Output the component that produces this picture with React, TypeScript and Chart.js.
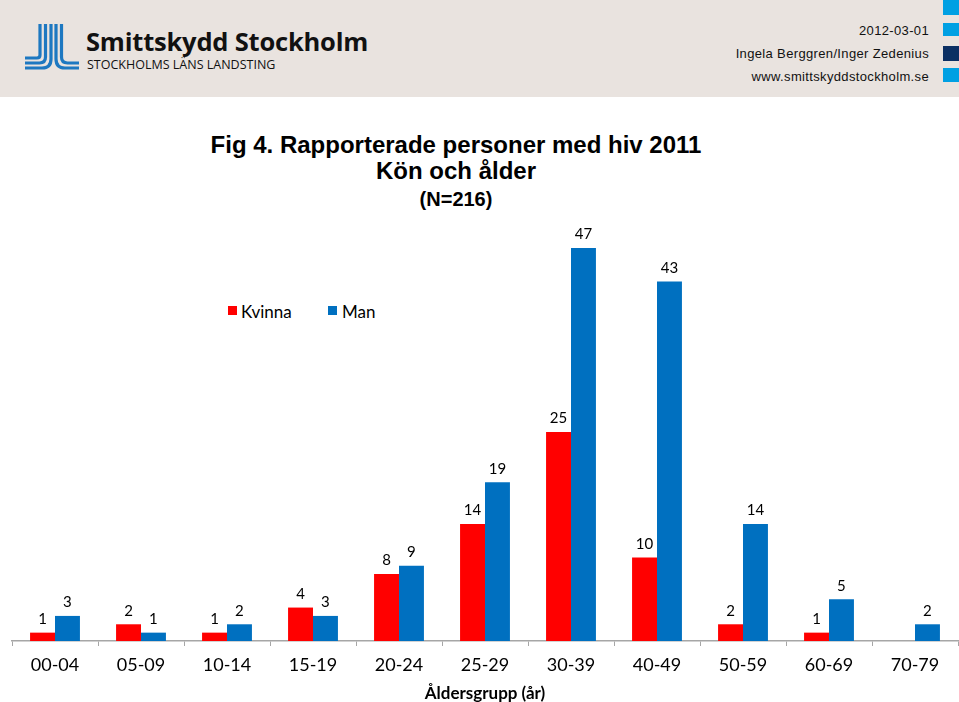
import { useEffect, useRef } from "react";
import Chart from "chart.js/auto";

const categories = ["00-04", "05-09", "10-14", "15-19", "20-24", "25-29", "30-39", "40-49", "50-59", "60-69", "70-79"];
const kvinna = [1, 2, 1, 4, 8, 14, 25, 10, 2, 1, 0];
const man = [3, 1, 2, 3, 9, 19, 47, 43, 14, 5, 2];
const seriesNames = ["Kvinna", "Man"];
const seriesColors = ["#ff0000", "#0070c0"];
const axisTitle = "Åldersgrupp (år)";
const titleLines = ["Fig 4. Rapporterade personer med hiv 2011", "Kön och ålder"];
const subTitle = "(N=216)";
const headerLines = ["2012-03-01", "Ingela Berggren/Inger Zedenius", "www.smittskyddstockholm.se"];
const yMax = 50;

const valueLabels = {
  id: "valueLabels",
  afterDatasetsDraw(chart: any) {
    const ctx = chart.ctx;
    ctx.save();
    ctx.font = "15px Lato";
    ctx.fillStyle = "#000";
    ctx.textAlign = "center";
    ctx.textBaseline = "bottom";
    chart.data.datasets.forEach((ds: any, i: number) => {
      const meta = chart.getDatasetMeta(i);
      meta.data.forEach((el: any, j: number) => {
        const v = ds.data[j];
        if (!v) return;
        ctx.fillText(String(v), el.x, el.y - 6);
      });
    });
    ctx.restore();
  },
};

function Logo() {
  const c = "#1d78c1";
  const sw = 3.2;
  return (
    <svg width="60" height="52" viewBox="0 0 60 52" style={{ position: "absolute", left: 22, top: 21 }}>
      <path d={`M18 3 V34 Q18 37 15 37 H3`} stroke={c} strokeWidth={sw} fill="none" />
      <path d={`M23.5 3 V36 Q23.5 42 17.5 42 H3`} stroke={c} strokeWidth={sw} fill="none" />
      <path d={`M29 3 V38 Q29 47 20 47 H3`} stroke={c} strokeWidth={sw} fill="none" />
      <path d={`M34 3 V38 Q34 47 43 47 H57`} stroke={c} strokeWidth={sw} fill="none" />
      <path d={`M39.5 3 V36 Q39.5 42 45.5 42 H57`} stroke={c} strokeWidth={sw} fill="none" />
    </svg>
  );
}

export default function App() {
  const ref = useRef<HTMLCanvasElement | null>(null);

  useEffect(() => {
    if (!ref.current) return;
    const chart = new Chart(ref.current, {
      type: "bar",
      data: {
        labels: categories,
        datasets: [
          { label: seriesNames[0], data: kvinna, backgroundColor: seriesColors[0], categoryPercentage: 0.58, barPercentage: 1 },
          { label: seriesNames[1], data: man, backgroundColor: seriesColors[1], categoryPercentage: 0.58, barPercentage: 1 },
        ],
      },
      options: {
        responsive: false,
        animation: false,
        layout: { padding: { left: 12, right: 1, top: 9, bottom: 0 } },
        plugins: { legend: { display: false }, tooltip: { enabled: false } },
        scales: {
          x: {
            grid: { display: true, drawOnChartArea: false, drawTicks: true, tickLength: 5, color: "#a6a6a6", offset: true },
            border: { color: "#a6a6a6", width: 1.5 },
            ticks: { font: { family: "Lato", size: 18 }, color: "#000", padding: 8 },
            title: {
              display: true,
              text: axisTitle,
              font: { family: "Lato", size: 17, weight: "bold" },
              color: "#000",
              padding: { top: 0, bottom: 0 },
            },
          },
          y: { display: false, min: 0, max: yMax },
        },
      },
      plugins: [valueLabels],
    });
    return () => chart.destroy();
  }, []);

  const rightText: React.CSSProperties = {
    position: "absolute",
    right: 30,
    fontFamily: "'Liberation Sans', Arial, sans-serif",
    fontSize: 13,
    letterSpacing: 0.35,
    color: "#111",
    lineHeight: "16px",
    whiteSpace: "nowrap",
  };
  const titleStyle: React.CSSProperties = {
    position: "absolute",
    left: 0,
    width: 912,
    textAlign: "center",
    fontFamily: "'Liberation Sans', Arial, sans-serif",
    fontWeight: "bold",
    color: "#000",
    whiteSpace: "nowrap",
  };
  const legendText: React.CSSProperties = {
    position: "absolute",
    top: 301,
    fontFamily: "Lato, sans-serif",
    fontSize: 17,
    lineHeight: "22px",
    color: "#000",
  };

  return (
    <div style={{ position: "absolute", left: 0, top: 0, width: 959, height: 702, background: "#fff", overflow: "hidden" }}>
      <div style={{ position: "absolute", left: 0, top: 0, width: 959, height: 97, background: "#e9e3df" }}>
        <Logo />
        <div style={{ position: "absolute", left: 86, top: 26, fontFamily: "'Open Sans', sans-serif", fontWeight: "bold", fontSize: 25.5, lineHeight: "31px", color: "#111", whiteSpace: "nowrap", letterSpacing: -0.2 }}>
          Smittskydd Stockholm
        </div>
        <div style={{ position: "absolute", left: 87, top: 57, fontFamily: "'Open Sans', sans-serif", fontSize: 12.5, lineHeight: "16px", color: "#111", whiteSpace: "nowrap" }}>
          STOCKHOLMS LÄNS LANDSTING
        </div>
        <div style={{ ...rightText, top: 23 }}>{headerLines[0]}</div>
        <div style={{ ...rightText, top: 46 }}>{headerLines[1]}</div>
        <div style={{ ...rightText, top: 69 }}>{headerLines[2]}</div>
        <div style={{ position: "absolute", left: 943, top: 0, width: 16, height: 15, background: "#00a0e3" }} />
        <div style={{ position: "absolute", left: 943, top: 23, width: 16, height: 13, background: "#00a0e3" }} />
        <div style={{ position: "absolute", left: 943, top: 46, width: 16, height: 15, background: "#0b2f63" }} />
        <div style={{ position: "absolute", left: 943, top: 68, width: 16, height: 14, background: "#00a0e3" }} />
      </div>
      <div style={{ ...titleStyle, top: 131, fontSize: 24, lineHeight: "28px" }}>{titleLines[0]}</div>
      <div style={{ ...titleStyle, top: 157, fontSize: 24, lineHeight: "28px" }}>{titleLines[1]}</div>
      <div style={{ ...titleStyle, top: 187, fontSize: 20, lineHeight: "24px" }}>{subTitle}</div>
      <div style={{ position: "absolute", left: 228, top: 306, width: 9, height: 9, background: seriesColors[0] }} />
      <div style={{ ...legendText, left: 241 }}>{seriesNames[0]}</div>
      <div style={{ position: "absolute", left: 328, top: 306, width: 9, height: 9, background: seriesColors[1] }} />
      <div style={{ ...legendText, left: 342 }}>{seriesNames[1]}</div>
      <canvas ref={ref} width={959} height={490} style={{ position: "absolute", left: 0, top: 214 }} />
    </div>
  );
}
